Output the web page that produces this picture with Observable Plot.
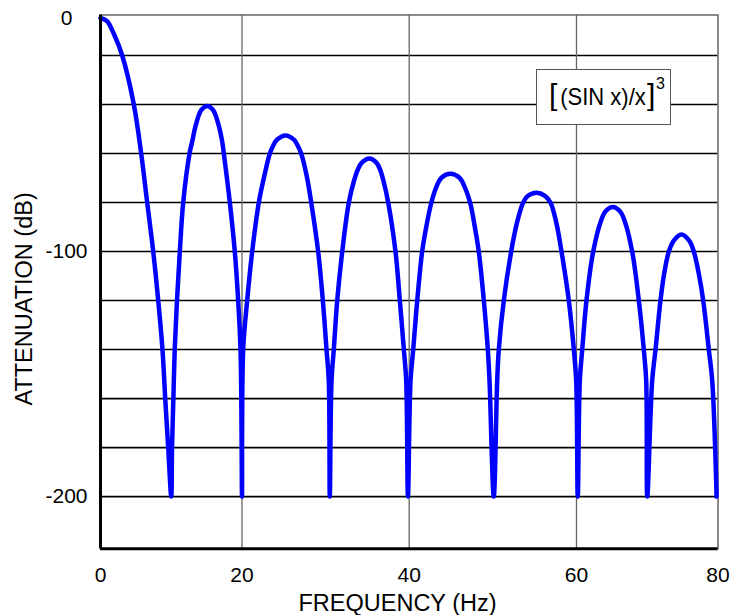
<!DOCTYPE html>
<html><head><meta charset="utf-8">
<script src="https://cdn.jsdelivr.net/npm/d3@7"></script>
<script src="https://cdn.jsdelivr.net/npm/@observablehq/plot@0.6"></script>
<style>
html,body{margin:0;padding:0;background:#fff;}
#wrap{position:relative;width:730px;height:615px;overflow:hidden;font-family:"Liberation Sans",Arial,sans-serif;}
#legend{position:absolute;left:535.5px;top:68.5px;width:135px;height:56px;box-sizing:border-box;border:1px solid #555;background:#fff;color:#000;}
#legend span{position:absolute;white-space:nowrap;line-height:1;}
#legend .bl{font-size:30px;left:12.6px;top:10.5px;}
#legend .m{font-size:22px;left:23.7px;top:17.9px;transform:scaleY(1.12);transform-origin:0 18.6px;}
#legend .br{font-size:30px;left:110.4px;top:10.5px;}
#legend .p{font-size:16px;left:119.6px;top:6.3px;}
</style></head>
<body><div id="wrap"></div>
<script>
// Frequency (Hz) and attenuation (dB)
const freqHz = [
  0, 0.95, 1.88, 3.07, 4.71, 5.75, 6.6, 7.45, 8.16, 8.76, 9.15, 9.57, 10,
  10.11, 10.3, 10.49, 10.81, 11.21, 11.69, 12.58, 12.98, 13.43, 14.26, 15.08, 15.9, 16.73, 17.19, 17.43, 18.28, 18.98, 19.46, 19.79, 19.9, 19.95, 20,
  20.14, 20.62, 21.22, 22.01, 22.68, 23.33, 23.74, 24.2, 25.2, 26.21, 26.66, 27.08, 27.73, 28.28, 29.11, 29.67, 30.11, 30.38, 30.5,
  30.71, 30.98, 31.39, 31.99, 32.78, 33.41, 33.86, 34.33, 35.25, 36.08, 36.51, 36.91, 37.49, 38.36, 38.88, 39.36, 39.64, 39.85,
  40.16, 40.48, 40.96, 41.55, 42.0, 42.65, 43.3, 43.86, 44.94, 46.01, 46.58, 47.28, 47.88, 48.32, 48.92, 49.4, 49.6, 50.11,
  50.52, 50.71, 51.31, 52.19, 52.88, 53.63, 54.2, 55.22, 56.23, 56.89, 57.59, 58.21, 59.08, 59.68, 59.96, 60.18,
  60.47, 60.81, 61.41, 62.36, 63.48, 64.14, 65.13, 66.12, 66.78, 67.87, 68.81, 69.51, 69.85, 70,
  70.7, 71.17, 71.87, 72.37, 73.05, 73.75, 74.84, 75.93, 76.58, 77.31, 77.91, 78.7, 79.18, 79.8
];
const attenDb = [
  0, -1.8, -8.4, -20, -40, -60, -80, -100, -120, -140, -160, -180, -200,
  -180, -160, -140, -120, -100, -80, -60, -54.9, -48.8, -42.2, -40.6, -42.2, -48.8, -54.9, -60, -80, -100, -120, -140, -160, -180, -200,
  -140, -120, -100, -80, -69, -60, -56.7, -54.3, -52.6, -54.3, -56.7, -60, -69, -80, -100, -120, -140, -152.6, -200,
  -152.6, -140, -120, -100, -80, -71, -66.5, -63.7, -62, -63.7, -66.5, -71, -80, -100, -120, -140, -152.6, -200,
  -152.6, -140, -120, -100, -90.7, -80, -73.2, -69.9, -68.3, -69.9, -73.2, -80, -90.7, -100, -120, -140, -152.6, -200,
  -152.6, -140, -120, -100, -88.3, -80, -77.25, -76, -77.25, -80, -88.3, -100, -120, -140, -152.6, -200,
  -152.6, -140, -120, -100, -87.3, -83.45, -81.8, -83.45, -87.3, -100, -120, -140, -152.6, -200,
  -152.6, -140, -120, -109.4, -100, -95.5, -93, -95.5, -100, -109.4, -120, -140, -152.6, -200
];
const xTicks = [0, 20, 40, 60, 80];
const yTicks = [0, -100, -200];
const xGrid = [20, 40, 60];
const yGrid = [-20, -40, -60, -80, -100, -120, -140, -160, -180, -200];
// the original axes are slightly non-uniform: piecewise scale transforms
const xDomain = [0, 20, 40, 60, 80];
const xRange = [100, 241.5, 408.7, 576, 717.5];
const yDomain = [-221.3, -20, 1.6];
const yRange = [548.3, 55, 14.5];
const xTitle = "FREQUENCY (Hz)";
const yTitle = "ATTENUATION (dB)";
const legendLeft = "[";
const legendMain = "(SIN x)/x";
const legendRight = "]";
const legendPower = "3";

const data = freqHz.map((f, i) => ({f, db: attenDb[i]}));
const xPiece = d3.scaleLinear().domain(xDomain).range(xRange);
const yPiece = d3.scaleLinear().domain(yDomain).range(yRange);
const xEnds = [xRange[0], xRange[xRange.length - 1]];
const yEnds = [yRange[0], yRange[yRange.length - 1]];

const chart = Plot.plot({
  width: 730, height: 615,
  marginLeft: 100, marginRight: 12.5, marginTop: 14.5, marginBottom: 66.7,
  style: {fontFamily: "'Liberation Sans', Arial, sans-serif", fontSize: "21px", color: "#000", background: "#fff", overflow: "visible"},
  x: {transform: xPiece, domain: xEnds, range: xEnds},
  y: {transform: yPiece, domain: yEnds, range: yEnds},
  marks: [
    Plot.ruleY(yGrid, {stroke: "#000", strokeWidth: 1.6}),
    Plot.ruleX(xGrid, {stroke: "#666", strokeWidth: 1.3}),
    Plot.frame({stroke: "#666", strokeWidth: 1.5}),
    Plot.line(data, {x: "f", y: "db", curve: "catmull-rom", stroke: "#0000ff", strokeWidth: 4.5, strokeLinejoin: "round"}),
    Plot.ruleX([xDomain[0]], {stroke: "#000", strokeWidth: 3}),
    Plot.ruleY([yDomain[0]], {stroke: "#000", strokeWidth: 3}),
    Plot.axisX(xTicks, {anchor: "bottom", tickSize: 0, tickPadding: 18, fontSize: 21, label: null, tickFormat: d => String(d)}),
    Plot.axisY(yTicks, {anchor: "left", tickSize: 0, tickPadding: 34, textAnchor: "middle", fontSize: 21, label: null, tickFormat: d => String(d)}),
    Plot.text([xTitle], {text: d => d, frameAnchor: "bottom", textAnchor: "middle", dx: -11.75, dy: 54.5, fontSize: 23.5, lineAnchor: "middle", fill: "#000"}),
    Plot.text([yTitle], {text: d => d, frameAnchor: "left", textAnchor: "middle", rotate: -90, dx: -76, dy: 17, fontSize: 23.5, lineAnchor: "middle", fill: "#000"})
  ]
});

const wrap = document.getElementById("wrap");
wrap.appendChild(chart);
const legend = document.createElement("div");
legend.id = "legend";
[["bl", legendLeft], ["m", legendMain], ["br", legendRight], ["p", legendPower]].forEach(([c, t]) => {
  const s = document.createElement("span");
  s.className = c;
  s.textContent = t;
  legend.appendChild(s);
});
wrap.appendChild(legend);
</script>
</body></html>
